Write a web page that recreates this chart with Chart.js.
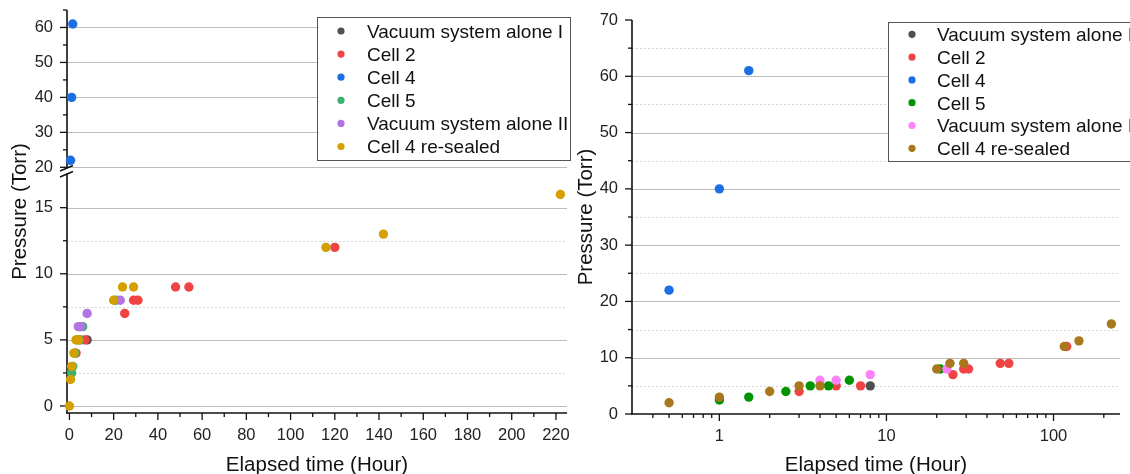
<!DOCTYPE html>
<html><head><meta charset="utf-8">
<script src="https://cdn.jsdelivr.net/npm/chart.js@4.4.1/dist/chart.umd.min.js"></script>
<style>
html,body{margin:0;padding:0;background:#fff;width:1130px;height:474px;overflow:hidden;}
#left{position:absolute;left:0;top:0;}
#right{position:absolute;left:572px;top:0;}
</style></head><body>
<canvas id="left" width="572" height="474"></canvas>
<canvas id="right" width="558" height="474"></canvas>
<script>
// ---------- data ----------
const seriesLabels = ['Vacuum system alone I','Cell 2','Cell 4','Cell 5','Vacuum system alone II','Cell 4 re-sealed'];
const vac1Hours = [8];
const vac1Torr  = [5];
const cell2Hours = [3, 5, 7, 25, 29, 31, 48, 54, 120];
const cell2Torr  = [4, 5, 5, 7, 8, 8, 9, 9, 12];
const cell4Hours = [0.5, 1, 1.5];
const cell4Torr  = [22, 40, 61];
const cell5Hours = [1, 1.5, 2.5, 3.5, 4.5, 6, 21];
const cell5Torr  = [2.5, 3, 4, 5, 5, 6, 8];
const vac2Hours = [4, 5, 8, 23];
const vac2Torr  = [6, 6, 7, 8];
const resealHours = [0, 0.5, 1, 2, 3, 4, 20, 24, 29, 116, 142, 222];
const resealTorr  = [0, 2, 3, 4, 5, 5, 8, 9, 9, 12, 13, 16];

// tick labels
const leftXTicks = [0, 20, 40, 60, 80, 100, 120, 140, 160, 180, 200, 220];
const leftXMinor = [10, 30, 50, 70, 90, 110, 130, 150, 170, 190, 210];
const leftYLowTicks = [0, 5, 10, 15];
const leftYLowMinor = [2.5, 7.5, 12.5];
const leftYHighTicks = [20, 30, 40, 50, 60];
const leftYHighMinor = [25, 35, 45, 55, 65];
const rightXTicks = [1, 10, 100];
const rightXMinor = [0.4, 0.5, 0.6, 0.7, 0.8, 0.9, 2, 3, 4, 5, 6, 7, 8, 9, 20, 30, 40, 50, 60, 70, 80, 90, 200];
const rightYTicks = [0, 10, 20, 30, 40, 50, 60, 70];
const rightYMinor = [5, 15, 25, 35, 45, 55, 65];

// ---------- styles ----------
const leftColors  = ['#505050', '#f04444', '#1b6fe2', '#3bb26d', '#b374e3', '#d3a000'];
const rightColors = ['#505050', '#f04444', '#1b6fe2', '#019301', '#ff80fb', '#a9781c'];
const FONT = '"Liberation Sans", Arial, Helvetica, sans-serif';
Chart.defaults.font.family = FONT;
Chart.defaults.color = '#222';

const seriesHours = [vac1Hours, cell2Hours, cell4Hours, cell5Hours, vac2Hours, resealHours];
const seriesTorr  = [vac1Torr, cell2Torr, cell4Torr, cell5Torr, vac2Torr, resealTorr];

function pts(i, positiveOnly) {
  const out = [];
  seriesHours[i].forEach((h, k) => {
    if (!positiveOnly || h > 0) out.push({x: h, y: seriesTorr[i][k]});
  });
  return out;
}

function makeDatasets(colors, positiveOnly, axisFor) {
  return seriesLabels.map((lab, i) => ({
    label: lab,
    data: pts(i, positiveOnly),
    yAxisID: axisFor(i),
    backgroundColor: colors[i],
    borderColor: colors[i],
    pointRadius: 4.7,
    pointHoverRadius: 4.7,
    pointBorderWidth: 0,
    showLine: false,
    clip: false,
    order: seriesLabels.length - i
  }));
}

function setTicks(arr) { return s => { s.ticks = arr.map(v => ({value: v})); }; }

function decorPlugin(spec) {
  return {
    id: 'decor',
    beforeDatasetsDraw(chart) {
      const ctx = chart.ctx, a = chart.chartArea;
      ctx.save();
      spec.y.forEach(ys => {
        const s = chart.scales[ys.id];
        ctx.lineWidth = 1;
        ctx.strokeStyle = '#bcbcbc';
        ctx.setLineDash([]);
        ys.grid.forEach(v => {
          const y = Math.round(s.getPixelForValue(v)) + 0.5;
          ctx.beginPath(); ctx.moveTo(a.left, y); ctx.lineTo(a.right, y); ctx.stroke();
        });
        ctx.strokeStyle = '#d6d6d6';
        ctx.setLineDash([2, 2]);
        (ys.dotted || []).forEach(v => {
          const y = Math.round(s.getPixelForValue(v)) + 0.5;
          ctx.beginPath(); ctx.moveTo(a.left, y); ctx.lineTo(a.right, y); ctx.stroke();
        });
        ctx.setLineDash([]);
      });
      ctx.strokeStyle = '#111';
      ctx.lineWidth = 1.6;
      ctx.beginPath(); ctx.moveTo(a.left, a.top); ctx.lineTo(a.left, a.bottom + 0.8); ctx.stroke();
      ctx.beginPath(); ctx.moveTo(a.left - 0.8, a.bottom); ctx.lineTo(a.right, a.bottom); ctx.stroke();
      ctx.lineWidth = 1.3;
      spec.y.forEach(ys => {
        const s = chart.scales[ys.id];
        ys.major.forEach(v => { const y = s.getPixelForValue(v); ctx.beginPath(); ctx.moveTo(a.left - 7, y); ctx.lineTo(a.left, y); ctx.stroke(); });
        ys.minor.forEach(v => { const y = s.getPixelForValue(v); ctx.beginPath(); ctx.moveTo(a.left - 4, y); ctx.lineTo(a.left, y); ctx.stroke(); });
      });
      const xs = chart.scales.x;
      spec.x.major.forEach(v => { const x = xs.getPixelForValue(v); ctx.beginPath(); ctx.moveTo(x, a.bottom); ctx.lineTo(x, a.bottom + 7); ctx.stroke(); });
      spec.x.minor.forEach(v => { const x = xs.getPixelForValue(v); ctx.beginPath(); ctx.moveTo(x, a.bottom); ctx.lineTo(x, a.bottom + 4); ctx.stroke(); });
      ctx.restore();
    },
    afterDraw(chart) {
      const ctx = chart.ctx, a = chart.chartArea;
      ctx.save();
      if (spec.brk) {
        const yb = chart.scales.y.top;
        ctx.fillStyle = '#fff';
        ctx.fillRect(a.left - 2, yb - 2, 4, 5);
        ctx.strokeStyle = '#111';
        ctx.lineWidth = 1.4;
        ctx.beginPath(); ctx.moveTo(a.left - 7, yb + 1); ctx.lineTo(a.left + 6, yb - 4.5); ctx.stroke();
        ctx.beginPath(); ctx.moveTo(a.left - 7, yb + 7); ctx.lineTo(a.left + 6, yb + 1.5); ctx.stroke();
      }
      if (spec.yTitle) {
        ctx.translate(spec.yTitle.x, (a.top + a.bottom) / 2);
        ctx.rotate(-Math.PI / 2);
        ctx.font = '20.5px ' + FONT;
        ctx.fillStyle = '#111';
        ctx.textAlign = 'center';
        ctx.textBaseline = 'middle';
        ctx.fillText('Pressure (Torr)', 0, 0);
        ctx.setTransform(1, 0, 0, 1, 0, 0);
      }
      const L = spec.legend;
      ctx.fillStyle = '#fff';
      ctx.fillRect(L.x, L.y, L.w, L.h);
      ctx.strokeStyle = '#555';
      ctx.lineWidth = 1;
      ctx.strokeRect(L.x + 0.5, L.y + 0.5, L.w, L.h);
      ctx.font = '19px ' + FONT;
      ctx.textBaseline = 'alphabetic';
      ctx.textAlign = 'left';
      chart.data.datasets.forEach((ds, i) => {
        const cy = L.first + i * L.dy;
        ctx.fillStyle = ds.backgroundColor;
        ctx.beginPath(); ctx.arc(L.mx, cy, 3.6, 0, Math.PI * 2); ctx.fill();
        ctx.fillStyle = '#111';
        ctx.fillText(ds.label, L.tx, cy + 6.8);
      });
      ctx.restore();
    }
  };
}

const tickFont = {size: 16.5, family: FONT};
const titleFont = {size: 20.5, family: FONT, lineHeight: 0.8};
const yGrid = { display: false, drawTicks: true, tickLength: 14 };
const xGrid = { display: false, drawTicks: true, tickLength: 13 };

// ---------- left chart (broken linear axis) ----------
new Chart(document.getElementById('left'), {
  type: 'scatter',
  data: { datasets: makeDatasets(leftColors, false, i => i === 2 ? 'yTop' : 'y') },
  options: {
    responsive: false, animation: false, devicePixelRatio: 1,
    layout: { padding: { left: 0, right: 5, top: 10, bottom: 0 } },
    plugins: { legend: { display: false }, tooltip: { enabled: false } },
    scales: {
      x: {
        type: 'linear', min: -1.1, max: 225,
        grid: xGrid, border: { display: false },
        ticks: { padding: 0, font: tickFont, color: '#222', autoSkip: false, maxRotation: 0 },
        afterBuildTicks: setTicks(leftXTicks),
        afterFit: s => { s.height = 61; },
        title: { display: true, text: 'Elapsed time (Hour)', font: titleFont, color: '#111', padding: { top: 0, bottom: 0 } }
      },
      yTop: {
        type: 'linear', position: 'left', stack: 'p', stackWeight: 160, weight: 1,
        min: 19.23, max: 65,
        grid: yGrid, border: { display: false },
        ticks: { padding: 0, font: tickFont, color: '#222', autoSkip: false },
        afterBuildTicks: setTicks(leftYHighTicks),
        afterFit: s => { s.width = 67; }
      },
      y: {
        type: 'linear', position: 'left', stack: 'p', stackWeight: 243, weight: 0,
        min: -0.53, max: 17.85,
        grid: yGrid, border: { display: false },
        ticks: { padding: 0, font: tickFont, color: '#222', autoSkip: false },
        afterBuildTicks: setTicks(leftYLowTicks),
        afterFit: s => { s.width = 67; }
      }
    }
  },
  plugins: [decorPlugin({
    y: [
      { id: 'yTop', grid: leftYHighTicks, dotted: [], major: leftYHighTicks, minor: leftYHighMinor },
      { id: 'y', grid: leftYLowTicks, dotted: leftYLowMinor, major: leftYLowTicks, minor: leftYLowMinor }
    ],
    x: { major: leftXTicks, minor: leftXMinor },
    brk: true,
    yTitle: { x: 20 },
    legend: { x: 317, y: 17, w: 253, h: 143, mx: 341, tx: 367, first: 31, dy: 23.1 }
  })]
});

// ---------- right chart (log x axis) ----------
new Chart(document.getElementById('right'), {
  type: 'scatter',
  data: { datasets: makeDatasets(rightColors, true, () => 'y') },
  options: {
    responsive: false, animation: false, devicePixelRatio: 1,
    layout: { padding: { left: 0, right: 10, top: 20, bottom: 0 } },
    plugins: { legend: { display: false }, tooltip: { enabled: false } },
    scales: {
      x: {
        type: 'logarithmic', min: 0.3, max: 250,
        grid: xGrid, border: { display: false },
        ticks: { padding: 0, font: tickFont, color: '#222', autoSkip: false, maxRotation: 0, callback: v => String(v) },
        afterBuildTicks: setTicks(rightXTicks),
        afterFit: s => { s.height = 60; },
        title: { display: true, text: 'Elapsed time (Hour)', font: titleFont, color: '#111', padding: { top: 0, bottom: 0 } }
      },
      y: {
        type: 'linear', position: 'left', min: 0, max: 70,
        grid: yGrid, border: { display: false },
        ticks: { padding: 0, font: tickFont, color: '#222', autoSkip: false },
        afterBuildTicks: setTicks(rightYTicks),
        afterFit: s => { s.width = 60; },
        title: { display: true, text: 'Pressure (Torr)', font: {size: 20.5, family: FONT}, color: '#111', padding: { top: 2, bottom: 0 } }
      }
    }
  },
  plugins: [decorPlugin({
    y: [
      { id: 'y', grid: [10, 20, 30, 40, 50, 60], dotted: rightYMinor, major: rightYTicks, minor: rightYMinor }
    ],
    x: { major: rightXTicks, minor: rightXMinor },
    brk: false,
    legend: { x: 316, y: 22, w: 300, h: 139, mx: 340, tx: 365, first: 34.3, dy: 22.8 }
  })]
});
</script>
</body></html>
